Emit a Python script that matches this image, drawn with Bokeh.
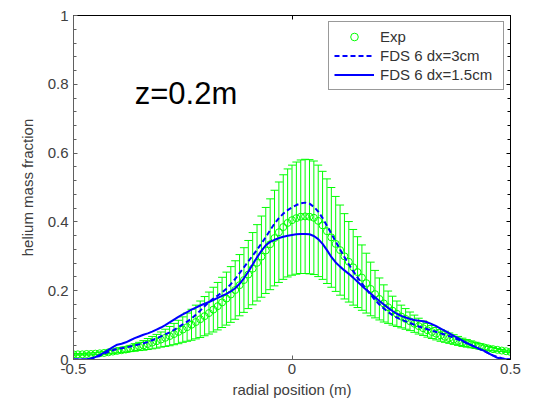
from bokeh.plotting import figure
from bokeh.models import (Range1d, LinearAxis, FixedTicker, Whisker, TeeHead,
                          ColumnDataSource, Label, Legend, LegendItem)
from bokeh.embed import file_html
from bokeh.resources import INLINE

# ---------------- data ----------------
radial_position = [
    -0.50, -0.49, -0.48, -0.47, -0.46, -0.45, -0.44, -0.43, -0.42, -0.41,
    -0.40, -0.39, -0.38, -0.37, -0.36, -0.35, -0.34, -0.33, -0.32, -0.31,
    -0.30, -0.29, -0.28, -0.27, -0.26, -0.25, -0.24, -0.23, -0.22, -0.21,
    -0.20, -0.19, -0.18, -0.17, -0.16, -0.15, -0.14, -0.13, -0.12, -0.11,
    -0.10, -0.09, -0.08, -0.07, -0.06, -0.05, -0.04, -0.03, -0.02, -0.01,
    0.00, 0.01, 0.02, 0.03, 0.04, 0.05, 0.06, 0.07, 0.08, 0.09,
    0.10, 0.11, 0.12, 0.13, 0.14, 0.15, 0.16, 0.17, 0.18, 0.19,
    0.20, 0.21, 0.22, 0.23, 0.24, 0.25, 0.26, 0.27, 0.28, 0.29,
    0.30, 0.31, 0.32, 0.33, 0.34, 0.35, 0.36, 0.37, 0.38, 0.39,
    0.40, 0.41, 0.42, 0.43, 0.44, 0.45, 0.46, 0.47, 0.48, 0.49, 0.50,
]

exp_mean = [
    0.015, 0.015, 0.015, 0.016, 0.016, 0.017, 0.018, 0.019, 0.021, 0.023,
    0.025, 0.027, 0.029, 0.032, 0.035, 0.038, 0.041, 0.045, 0.049, 0.053,
    0.058, 0.063, 0.068, 0.074, 0.080, 0.087, 0.094, 0.101, 0.109, 0.117,
    0.126, 0.135, 0.145, 0.155, 0.166, 0.177, 0.189, 0.202, 0.216, 0.231,
    0.247, 0.264, 0.281, 0.299, 0.317, 0.335, 0.353, 0.370, 0.385, 0.397,
    0.405, 0.411, 0.415, 0.416, 0.415, 0.412, 0.403, 0.390, 0.373, 0.355,
    0.336, 0.318, 0.300, 0.284, 0.268, 0.254, 0.238, 0.222, 0.205, 0.190,
    0.176, 0.163, 0.152, 0.142, 0.133, 0.125, 0.118, 0.111, 0.104, 0.097,
    0.091, 0.085, 0.080, 0.075, 0.070, 0.066, 0.062, 0.058, 0.054, 0.050,
    0.047, 0.044, 0.041, 0.038, 0.035, 0.032, 0.030, 0.028, 0.026, 0.024, 0.022,
]

exp_err = [
    0.002, 0.002, 0.002, 0.003, 0.003, 0.003, 0.004, 0.004, 0.005, 0.005,
    0.006, 0.007, 0.008, 0.009, 0.011, 0.012, 0.014, 0.016, 0.018, 0.020,
    0.022, 0.025, 0.028, 0.031, 0.034, 0.037, 0.041, 0.045, 0.049, 0.053,
    0.057, 0.061, 0.065, 0.069, 0.073, 0.077, 0.081, 0.085, 0.089, 0.094,
    0.099, 0.105, 0.111, 0.118, 0.125, 0.132, 0.139, 0.146, 0.152, 0.157,
    0.160, 0.163, 0.165, 0.166, 0.166, 0.165, 0.162, 0.157, 0.152, 0.145,
    0.138, 0.131, 0.124, 0.117, 0.110, 0.103, 0.095, 0.087, 0.078, 0.069,
    0.061, 0.054, 0.047, 0.042, 0.037, 0.033, 0.030, 0.027, 0.025, 0.023,
    0.021, 0.020, 0.019, 0.018, 0.017, 0.016, 0.015, 0.014, 0.013, 0.012,
    0.011, 0.010, 0.009, 0.008, 0.007, 0.006, 0.005, 0.004, 0.003, 0.003, 0.002,
]

fds_dx3cm = [
    0.000, 0.000, 0.000, 0.000, 0.002, 0.006, 0.011, 0.017, 0.022, 0.027,
    0.031, 0.033, 0.035, 0.038, 0.041, 0.044, 0.047, 0.051, 0.056, 0.061,
    0.067, 0.073, 0.079, 0.086, 0.094, 0.102, 0.110, 0.119, 0.130, 0.142,
    0.155, 0.167, 0.177, 0.186, 0.195, 0.206, 0.219, 0.234, 0.251, 0.268,
    0.285, 0.302, 0.319, 0.337, 0.356, 0.376, 0.395, 0.411, 0.424, 0.434,
    0.442, 0.449, 0.454, 0.456, 0.453, 0.444, 0.430, 0.411, 0.389, 0.366,
    0.343, 0.320, 0.298, 0.277, 0.257, 0.238, 0.221, 0.204, 0.188, 0.173,
    0.160, 0.148, 0.138, 0.129, 0.122, 0.116, 0.111, 0.106, 0.101, 0.096,
    0.092, 0.088, 0.084, 0.080, 0.076, 0.072, 0.068, 0.063, 0.058, 0.053,
    0.047, 0.042, 0.036, 0.030, 0.024, 0.018, 0.012, 0.007, 0.004, 0.001, 0.000,
]

fds_dx15cm = [
    0.000, 0.000, 0.000, 0.001, 0.003, 0.007, 0.013, 0.020, 0.028, 0.036,
    0.043, 0.046, 0.050, 0.056, 0.062, 0.067, 0.072, 0.076, 0.081, 0.087,
    0.093, 0.100, 0.108, 0.116, 0.124, 0.131, 0.138, 0.145, 0.151, 0.157,
    0.162, 0.167, 0.173, 0.179, 0.185, 0.191, 0.198, 0.207, 0.220, 0.236,
    0.255, 0.276, 0.297, 0.316, 0.332, 0.342, 0.348, 0.353, 0.357, 0.360,
    0.362, 0.364, 0.365, 0.365, 0.364, 0.359, 0.350, 0.336, 0.318, 0.298,
    0.282, 0.270, 0.259, 0.249, 0.238, 0.226, 0.214, 0.203, 0.192, 0.181,
    0.170, 0.160, 0.150, 0.141, 0.133, 0.127, 0.122, 0.118, 0.115, 0.113,
    0.111, 0.108, 0.103, 0.097, 0.090, 0.083, 0.076, 0.069, 0.062, 0.055,
    0.048, 0.042, 0.036, 0.030, 0.025, 0.018, 0.011, 0.005, 0.002, 0.001, 0.000,
]

x_ticks = [-0.5, 0, 0.5]
x_tick_labels = ["-0.5", "0", "0.5"]
y_ticks = [0, 0.2, 0.4, 0.6, 0.8, 1]
y_tick_labels = ["0", "0.2", "0.4", "0.6", "0.8", "1"]
y_minor_ticks = [0.04, 0.08, 0.12, 0.16, 0.24, 0.28, 0.32, 0.36, 0.44, 0.48,
                 0.52, 0.56, 0.64, 0.68, 0.72, 0.76, 0.84, 0.88, 0.92, 0.96]

series_labels = ["Exp", "FDS 6 dx=3cm", "FDS 6 dx=1.5cm"]
annotation_text = "z=0.2m"
x_label = "radial position (m)"
y_label = "helium mass fraction"

# ---------------- figure ----------------
FONT = "Liberation Sans"
GREEN = "#00ff00"
BLUE = "#0000ff"
TXT = "#404040"

p = figure(width=535, height=401, output_backend="svg", toolbar_location=None,
           x_range=Range1d(-0.5, 0.5), y_range=Range1d(0, 1),
           x_axis_type=None, y_axis_type=None,
           min_border_left=73, min_border_right=25,
           min_border_top=15, min_border_bottom=42)
p.background_fill_color = "white"
p.border_fill_color = "white"
p.outline_line_color = "black"
p.outline_line_width = 1

xt = FixedTicker(ticks=x_ticks, minor_ticks=[])
yt = FixedTicker(ticks=y_ticks, minor_ticks=y_minor_ticks)


def style_axis(ax, show_labels, line_color):
    ax.axis_line_color = line_color
    ax.major_tick_line_color = line_color
    ax.minor_tick_line_color = line_color
    ax.major_tick_in = 4
    ax.major_tick_out = 0
    ax.minor_tick_in = 3
    ax.minor_tick_out = 0
    if show_labels:
        ax.major_label_text_font = FONT
        ax.major_label_text_font_size = "15px"
        ax.major_label_text_color = TXT
        ax.axis_label_text_font = FONT
        ax.axis_label_text_font_size = "15px"
        ax.axis_label_text_font_style = "normal"
        ax.axis_label_text_color = TXT
    else:
        # tick marks only on the box's top and right sides
        ax.major_label_text_font_size = "9px"
        ax.major_label_text_alpha = 0
        ax.major_label_standoff = 0


bottom = LinearAxis(ticker=xt, axis_label=x_label,
                    major_label_overrides=dict(zip(x_ticks, x_tick_labels)))
style_axis(bottom, True, "#606060")
bottom.major_label_standoff = 4
bottom.axis_label_standoff = 4
p.add_layout(bottom, "below")

left = LinearAxis(ticker=yt, axis_label=y_label,
                  major_label_overrides=dict(zip(y_ticks, y_tick_labels)))
style_axis(left, True, "#606060")
left.major_label_standoff = 5
left.axis_label_standoff = 9
p.add_layout(left, "left")

top = LinearAxis(ticker=xt, major_label_overrides={t: "" for t in x_ticks})
style_axis(top, False, "black")
p.add_layout(top, "above")

right = LinearAxis(ticker=yt, major_label_overrides={t: "" for t in y_ticks})
style_axis(right, False, "black")
p.add_layout(right, "right")

src = ColumnDataSource(dict(
    x=radial_position,
    mean=exp_mean,
    upper=[m + e for m, e in zip(exp_mean, exp_err)],
    lower=[m - e for m, e in zip(exp_mean, exp_err)],
    dx3=fds_dx3cm,
    dx15=fds_dx15cm,
))

whisk = Whisker(base="x", upper="upper", lower="lower", source=src,
                line_color=GREEN, line_width=1, level="underlay",
                upper_head=TeeHead(size=8, line_color=GREEN, line_width=1),
                lower_head=TeeHead(size=8, line_color=GREEN, line_width=1))
p.add_layout(whisk)

r_exp = p.scatter("x", "mean", source=src, marker="circle", size=7,
                  fill_color=None, line_color=GREEN, line_width=1)
r_dash = p.line("x", "dx3", source=src, line_color=BLUE, line_width=2,
                line_dash="5 3")
r_solid = p.line("x", "dx15", source=src, line_color=BLUE, line_width=2)

legend = Legend(items=[LegendItem(label=series_labels[0], renderers=[r_exp]),
                       LegendItem(label=series_labels[1], renderers=[r_dash]),
                       LegendItem(label=series_labels[2], renderers=[r_solid])],
                location="top_right", margin=6, padding=5, spacing=0,
                glyph_width=40, glyph_height=19, label_height=19,
                label_width=118, label_standoff=6,
                label_text_font=FONT, label_text_font_size="15px",
                label_text_color="#333333",
                border_line_color="#333333", border_line_width=1,
                background_fill_color="white", background_fill_alpha=1)
p.add_layout(legend)

p.add_layout(Label(x=-0.36, y=0.773, text=annotation_text, text_font=FONT,
                   text_font_size="31px", text_color="black",
                   text_baseline="alphabetic"))

open("out.html", "w").write(file_html(p, INLINE))
